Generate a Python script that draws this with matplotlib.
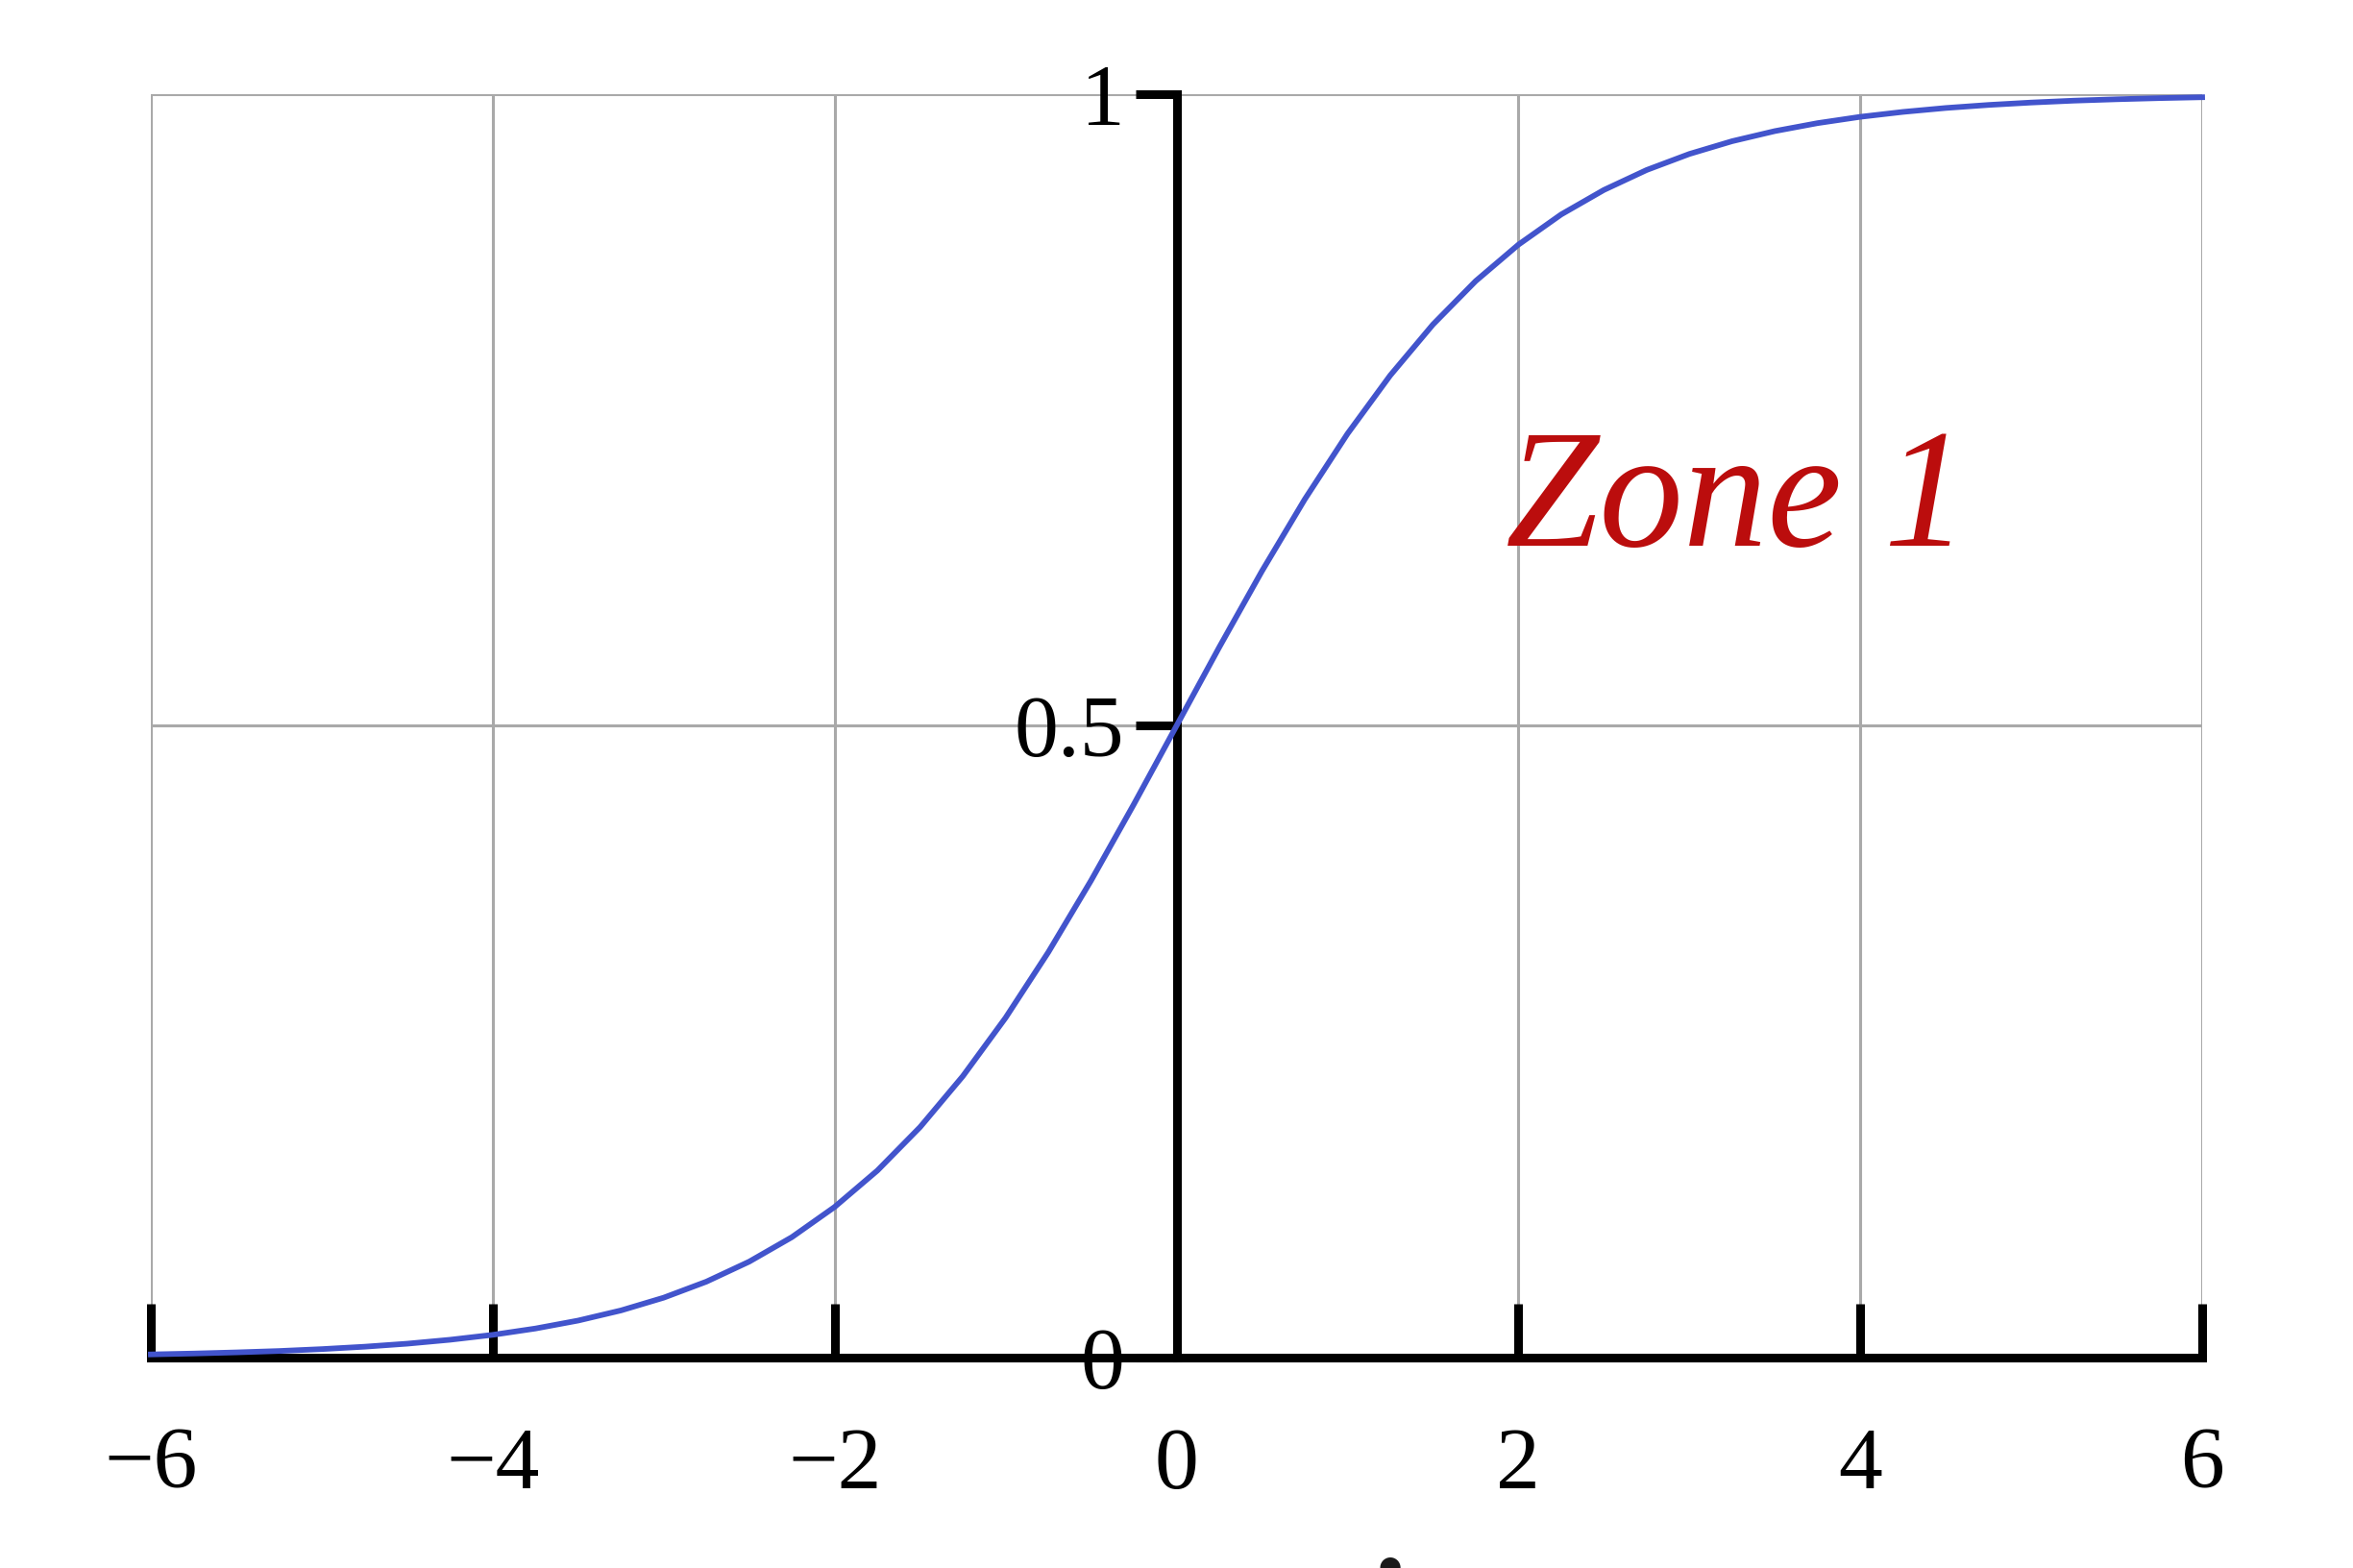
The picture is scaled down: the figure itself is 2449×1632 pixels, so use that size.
"""Logistic curve with the hand-written 'Zone 1' note."""

import matplotlib

matplotlib.use("Agg")
import matplotlib.pyplot as plt

# values, every 0.25 on x
x_values = [
    -6.0, -5.75, -5.5, -5.25, -5.0, -4.75, -4.5, -4.25, -4.0, -3.75, -3.5, -3.25,
    -3.0, -2.75, -2.5, -2.25, -2.0, -1.75, -1.5, -1.25, -1.0, -0.75, -0.5, -0.25,
    0.0, 0.25, 0.5, 0.75, 1.0, 1.25, 1.5, 1.75, 2.0, 2.25, 2.5, 2.75,
    3.0, 3.25, 3.5, 3.75, 4.0, 4.25, 4.5, 4.75, 5.0, 5.25, 5.5, 5.75, 6.0,
]
y_values = [
    0.0025, 0.0032, 0.0041, 0.0052, 0.0067, 0.0086, 0.0110, 0.0141, 0.0180, 0.0230,
    0.0293, 0.0373, 0.0474, 0.0601, 0.0759, 0.0953, 0.1192, 0.1480, 0.1824, 0.2227,
    0.2689, 0.3208, 0.3775, 0.4378, 0.5000, 0.5622, 0.6225, 0.6792, 0.7311, 0.7773,
    0.8176, 0.8520, 0.8808, 0.9047, 0.9241, 0.9399, 0.9526, 0.9627, 0.9707, 0.9770,
    0.9820, 0.9859, 0.9890, 0.9914, 0.9933, 0.9948, 0.9959, 0.9968, 0.9975,
]

x_ticks = [-6, -4, -2, 0, 2, 4, 6]
y_ticks = [0, 0.5, 1]
y_tick_labels = ["0", "0.5", "1"]

note_text = "Zone 1"
note_x, note_y = 3.28, 0.675

figure = plt.figure(figsize=(24.49, 16.32), dpi=100)
axis = figure.add_axes([0.0641, 0.1342, 0.8718, 0.8058])

axis.plot(x_values, y_values, color="#4254cc", linewidth=4.2,
          solid_joinstyle="round", clip_on=False, zorder=5)

axis.set_xlim(-6, 6)
axis.set_ylim(0, 1)
axis.set_xticks(x_ticks)
axis.set_yticks(y_ticks)
axis.set_yticklabels(y_tick_labels)

for gx in x_ticks:
    axis.axvline(gx, color="#a9a9a9", linewidth=2.2, zorder=1)
for gy in y_ticks[1:]:
    axis.axhline(gy, color="#a9a9a9", linewidth=2.2, zorder=1)

axis.spines["top"].set_visible(False)
axis.spines["right"].set_visible(False)
axis.spines["left"].set_position(("data", 0))
axis.spines["left"].set_linewidth(6.5)
axis.spines["bottom"].set_linewidth(6.5)
axis.spines["left"].set_zorder(3)
axis.spines["bottom"].set_zorder(3)

axis.tick_params(axis="x", direction="in", length=40, width=6.5, pad=52,
                 labelsize=66, labelfontfamily="Liberation Serif")
axis.tick_params(axis="y", direction="out", length=31, width=6.5, pad=8,
                 labelsize=66, labelfontfamily="Liberation Serif")

axis.text(note_x, note_y, note_text, color="#bb0d0d", fontsize=126,
          family="Liberation Serif", style="italic",
          ha="center", va="center", zorder=6)

# top of a cut-off mark at the lower edge of the picture
figure.text(0.5905, 0.001, "\u25cf", color="#1a1a1a", fontsize=20,
            ha="center", va="center")

figure.savefig("out.png", dpi=100)
plt.close(figure)
